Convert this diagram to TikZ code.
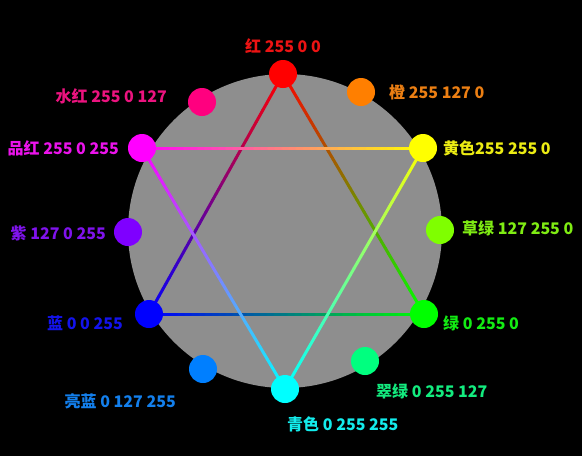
\documentclass[tikz,border=0pt]{standalone}
\usepackage{fontspec}
\newfontfamily\cjk{Noto Sans CJK SC}
\usetikzlibrary{calc,backgrounds}

\definecolor{rose}{RGB}{255,0,127}
\definecolor{hue magenta}{RGB}{255,0,255}
\definecolor{hue violet}{RGB}{127,0,255}
\definecolor{hue blue}{RGB}{0,0,255}
\definecolor{azure}{RGB}{0,127,255}
\definecolor{hue cyan}{RGB}{0,255,255}
\definecolor{spring}{RGB}{0,255,127}
\definecolor{hue green}{RGB}{0,255,0}
\definecolor{chartreuse}{RGB}{127,255,0}
\definecolor{hue yellow}{RGB}{255,255,0}
\definecolor{hue orange}{RGB}{255,127,0}
\definecolor{hue red}{RGB}{255,0,0}
\definecolor{wheelgray}{RGB}{142,142,142}

\tikzset{
  dot/.style={circle, fill=#1, minimum size=28pt, inner sep=0pt},
  lbl/.style={text=#1!85!gray, font=\cjk\bfseries\fontsize{16}{19}\selectfont, inner sep=0pt}
}

% colour-blended line: from, to, colour at from, colour at to
\newcommand{\gradline}[4]{%
  \foreach \i in {0,...,39}
    {\pgfmathtruncatemacro\j{\i+1}
     \pgfmathtruncatemacro\p{100-(\i+0.5)*2.5}
     \colorlet{segcol}{#3!\p!#4}
     \draw[draw=segcol, line width=3pt, line cap=round] ($(#1)!\i/40!(#2)$)--($(#1)!\j/40!(#2)$);}}

\begin{document}
\begin{tikzpicture}[x=1pt, y=-1pt]
  \useasboundingbox (0,0) rectangle (582,456);

  % the twelve hues
  \node[dot=hue red]     (r)  at (283,74)  {};
  \node[dot=hue orange]  (o)  at (361,92)  {};
  \node[dot=hue yellow]  (y)  at (423,148) {};
  \node[dot=chartreuse]  (ch) at (440,230) {};
  \node[dot=hue green]   (g)  at (424,314) {};
  \node[dot=spring]      (sg) at (365,361) {};
  \node[dot=hue cyan]    (c)  at (285,389) {};
  \node[dot=azure]       (az) at (203,369) {};
  \node[dot=hue blue]    (b)  at (149,314) {};
  \node[dot=hue violet]  (v)  at (128,232) {};
  \node[dot=hue magenta] (m)  at (142,148) {};
  \node[dot=rose]        (ro) at (202,102) {};

  \begin{scope}[on background layer]
    \fill[black] (0,0) rectangle (582,456);
    \fill[wheelgray] (285,231) circle (157pt);
    % star of two triangles
    \gradline{r}{g}{hue red}{hue green}
    \gradline{g}{b}{hue green}{hue blue}
    \gradline{b}{r}{hue blue}{hue red}
    \gradline{m}{y}{hue magenta}{hue yellow}
    \gradline{y}{c}{hue yellow}{hue cyan}
    \gradline{c}{m}{hue cyan}{hue magenta}
  \end{scope}

  % names and values
  \node[lbl=hue red]               (rl)  at (283,46)  {红 255 0 0};
  \node[lbl=hue orange, anchor=west]  (ol)  at (389,92)  {橙 255 127 0};
  \node[lbl=hue yellow, anchor=west]  (yl)  at (443,148) {黄色255 255 0};
  \node[lbl=chartreuse, anchor=west]  (chl) at (462,228) {草绿 127 255 0};
  \node[lbl=hue green, anchor=west]   (gl)  at (443,323) {绿 0 255 0};
  \node[lbl=spring, anchor=west]      (sgl) at (376,391) {翠绿 0 255 127};
  \node[lbl=hue cyan, anchor=west]    (cl)  at (287,424) {青色 0 255 255};
  \node[lbl=azure, anchor=east]       (azl) at (176,401) {亮蓝 0 127 255};
  \node[lbl=hue blue, anchor=east]    (bl)  at (123,323) {蓝 0 0 255};
  \node[lbl=hue violet, anchor=east]  (vl)  at (106,233) {紫 127 0 255};
  \node[lbl=hue magenta, anchor=east] (ml)  at (119,148) {品红 255 0 255};
  \node[lbl=rose, anchor=east]        (rol) at (167,96)  {水红 255 0 127};
\end{tikzpicture}
\end{document}
